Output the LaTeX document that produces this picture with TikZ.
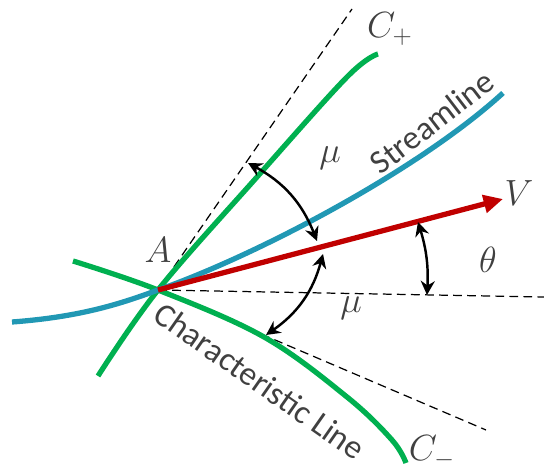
\documentclass[tikz,border=0pt]{standalone}
\usepackage{amsmath}
\usepackage{xcolor}
\usepackage{fontspec}
\setmainfont{Carlito}
\usepackage{tikz}
\usetikzlibrary{arrows.meta, positioning, calc}
\definecolor{cgreen}{RGB}{0,176,80}
\definecolor{cblue}{RGB}{33,152,180}
\definecolor{cred}{RGB}{192,0,0}
\definecolor{ctext}{RGB}{64,64,64}
\tikzset{
  guide/.style  = {line width=0.7pt, dash pattern=on 5pt off 3pt},
  charline/.style = {cgreen, line width=3pt},
  strmline/.style = {cblue, line width=3pt},
  velarr/.style = {cred, line width=3pt, -{Triangle[length=11pt, width=10pt]}},
  angarr/.style = {{Stealth[length=8pt, width=8pt]}-{Stealth[length=8pt, width=8pt]},
                   line width=1.4pt, black},
  sym/.style    = {text=ctext, font=\fontsize{20}{24}\selectfont, inner sep=1pt},
  lbl/.style    = {text=ctext, font=\fontsize{19}{23}\selectfont, inner sep=1pt},
}
\begin{document}
\begin{tikzpicture}[x=0.02cm, y=0.02cm]
  \useasboundingbox (0,0) rectangle (544,469);
  \coordinate (A) at (158,179);

  % reference directions
  \coordinate (up)  at (352,460);
  \coordinate (hor) at (544,172);
  \coordinate (low) at (486,39);
  \draw[guide] (A) -- (up);
  \draw[guide] (A) -- (hor);
  \draw[guide] (A) -- (low);

  % characteristics and streamline
  \draw[charline] plot[smooth, tension=0.6] coordinates
    {(98,93) (158,179) (257,292) (347,392) (378,415)};
  \draw[charline] plot[smooth, tension=0.6] coordinates
    {(73,208) (158,179) (264,132) (347,72) (392,29) (406,6)};
  \coordinate (S0) at (12,147);
  \coordinate (S1) at (503,376);
  \draw[strmline] (S0) .. controls (80,152) and (120,165) .. (A)
                       .. controls (260,215) and (420,300) .. (S1);

  % velocity
  \coordinate (Vtip) at (503,270);
  \draw[velarr] (A) -- (Vtip);

  % angles
  \coordinate (muA1) at (248,306);
  \coordinate (muA2) at (317,228);
  \coordinate (muB1) at (323,215);
  \coordinate (muB2) at (266,134);
  \coordinate (th1)  at (418,247);
  \coordinate (th2)  at (427,174);
  \draw[angarr] (muA1) to[bend left=20] (muA2);
  \draw[angarr] (muB1) to[bend left=20] (muB2);
  \draw[angarr] (th1) to[bend left=10] (th2);

  % labels
  \node[sym] (labA)   at (158,219) {$A$};
  \node[sym] (labV)   at (519,276) {$V$};
  \node[sym] (labth)  at (488,209) {$\theta$};
  \node[sym] (labmu1) at (330,311) {$\mu$};
  \node[sym] (labmu2) at (351,161) {$\mu$};
  \node[sym] (labCp)  at (390,440) {$C_+$};
  \node[sym] (labCm)  at (432,17)  {$C_-$};
  \node[lbl, rotate=37.5]  (labstr) at (432,347) {Streamline};
  \node[lbl, rotate=-35]   (labchr) at (260,88)  {Characteristic Line};
\end{tikzpicture}
\end{document}
